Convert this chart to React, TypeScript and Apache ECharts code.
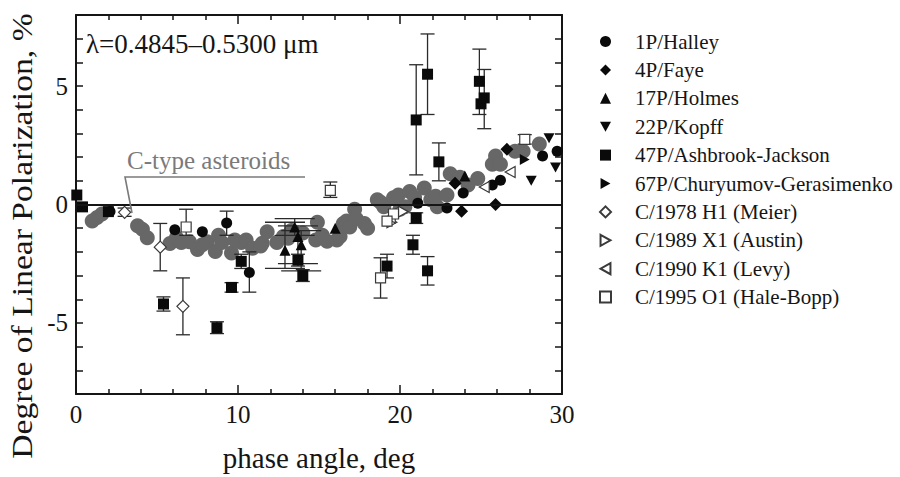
import React, { useEffect, useRef } from "react";
import * as echarts from "echarts";

// ---- Data (phase angle deg, polarization %, [lower, upper] error) ----
const cTypeAsteroids: number[][] = [
  [1.0, -0.7], [1.3, -0.55], [1.6, -0.4], [3.8, -0.9], [4.1, -1.05], [4.4, -1.4],
  [5.8, -1.65], [6.2, -1.4], [6.5, -1.6], [7.0, -1.57], [7.5, -1.9], [7.8, -1.7],
  [8.1, -1.57], [8.6, -1.98], [8.8, -1.3], [9.0, -1.6], [9.6, -2.05], [9.8, -1.5],
  [10.2, -1.6], [10.5, -1.5], [10.9, -1.85], [11.4, -1.75], [11.5, -1.64], [11.8, -1.15],
  [12.4, -1.6], [12.8, -1.35], [13.1, -1.43], [13.3, -1.1], [14.0, -1.2], [14.8, -1.5],
  [14.9, -0.75], [15.2, -1.3], [15.5, -1.55], [16.1, -1.5], [16.3, -1.35], [16.5, -0.8],
  [16.7, -0.7], [16.9, -0.95], [17.2, -0.2], [17.3, -0.6], [17.8, -0.8], [18.0, -1.0],
  [18.6, 0.2], [18.8, 0.1], [19.0, -0.1], [19.6, 0.28], [19.9, 0.4], [20.0, -0.2],
  [20.3, -0.1], [20.6, 0.55], [20.9, 0.3], [21.5, 0.7], [21.9, 0.2], [22.2, 0.35],
  [22.3, -0.1], [22.9, 0.4], [23.1, 1.3], [23.7, 1.15], [24.2, 0.82], [24.8, 1.1],
  [25.7, 1.7], [25.9, 2.05], [26.2, 1.7], [27.1, 2.25], [27.6, 2.25], [28.6, 2.55],
];

const halley: number[][] = [
  [2.1, -0.3], [6.1, -1.07], [7.8, -1.15], [9.3, -0.78, -1.3, -0.28], [10.7, -2.87, -3.7, -2.0],
  [21.1, 0.05], [22.9, -0.15], [23.9, 0.49], [25.7, 0.82], [26.2, 1.02], [28.8, 2.05], [29.7, 2.25],
];
const faye: number[][] = [[23.4, 0.9], [23.8, -0.28], [25.9, 0.0], [26.6, 2.33]];
const holmes: number[][] = [
  [12.9, -1.93, -2.7, -0.75], [13.5, -0.95, -1.3, -0.6], [13.7, -1.35, -2.5, -0.9],
  [13.9, -1.7, -2.8, -1.1], [16.0, -1.0], [24.0, 1.2],
];
const kopff: number[][] = [[28.1, 1.0], [29.2, 2.8], [29.6, 1.56]];
const ashbrookJackson: number[][] = [
  [0.05, 0.4], [0.4, -0.1], [2.0, -0.3],
  [5.4, -4.2, -4.5, -3.9], [8.7, -5.2, -5.45, -4.95], [9.6, -3.5, -3.7, -3.3], [10.2, -2.4, -2.7, -2.1],
  [13.7, -2.35, -2.6, -2.1], [14.0, -3.0, -3.25, -2.75], [19.2, -2.6, -3.1, -2.1],
  [20.8, -1.7, -2.1, -1.3], [21.0, -0.57, -0.8, -0.35], [21.7, -2.8, -3.4, -2.2],
  [21.0, 3.57, 1.25, 5.9], [21.7, 5.5, 3.8, 7.2], [22.4, 1.8, 1.0, 2.6],
  [24.9, 5.2, 3.8, 6.56], [25.0, 4.25], [25.2, 4.5, 3.2, 5.7],
];
const churyumov: number[][] = [[27.7, 1.9]];
const meier: number[][] = [[3.0, -0.33, -0.5, -0.15], [5.2, -1.8, -2.8, -0.8], [6.6, -4.3, -5.5, -3.1]];
const austin: number[][] = [[19.5, -0.75], [20.2, -0.3]];
const levy: number[][] = [[19.4, -0.55], [19.6, -0.35], [25.2, 0.74], [26.8, 1.37]];
const haleBopp: number[][] = [
  [6.8, -0.95, -1.3, -0.2], [15.7, 0.6, 0.3, 0.95], [18.8, -3.1, -3.95, -2.25],
  [19.6, -0.4], [19.2, -0.7], [27.7, 2.75, 2.55, 2.95],
];

const xRange = [0, 30];
const yRange = [-8, 8];
const yTickLabels = [-5, 0, 5];

const FONT = "Liberation Serif";
const INK = "#151515";

const TRI_DOWN = "path://M0,0 L10,0 L5,9 Z";
const TRI_RIGHT = "path://M0,0 L9,5 L0,10 Z";
const TRI_LEFT = "path://M9,0 L0,5 L9,10 Z";

type SeriesDef = { name: string; data: number[][]; symbol: string; size: number; open: boolean; wideCap?: boolean };

const comets: SeriesDef[] = [
  { name: "1P/Halley", data: halley, symbol: "circle", size: 11, open: false },
  { name: "4P/Faye", data: faye, symbol: "diamond", size: 13, open: false },
  { name: "17P/Holmes", data: holmes, symbol: "triangle", size: 11, open: false, wideCap: true },
  { name: "22P/Kopff", data: kopff, symbol: TRI_DOWN, size: 11, open: false },
  { name: "47P/Ashbrook-Jackson", data: ashbrookJackson, symbol: "rect", size: 11, open: false },
  { name: "67P/Churyumov-Gerasimenko", data: churyumov, symbol: TRI_RIGHT, size: 11, open: false },
  { name: "C/1978 H1 (Meier)", data: meier, symbol: "diamond", size: 12, open: true },
  { name: "C/1989 X1 (Austin)", data: austin, symbol: TRI_RIGHT, size: 11, open: true },
  { name: "C/1990 K1 (Levy)", data: levy, symbol: TRI_LEFT, size: 11, open: true },
  { name: "C/1995 O1 (Hale-Bopp)", data: haleBopp, symbol: "rect", size: 10, open: true },
];

export default function App() {
  const ref = useRef<HTMLDivElement>(null);
  useEffect(() => {
    if (!ref.current) return;
    const chart = echarts.init(ref.current, undefined, { renderer: "svg" });

    const errData: number[][] = [];
    comets.forEach((s) => {
      s.data.forEach((d) => {
        if (d.length >= 4) errData.push([d[0], d[2], d[3], s.wideCap ? 1 : 0]);
      });
    });

    const axisCommon = {
      type: "value" as const,
      axisLine: { show: true, onZero: false, lineStyle: { color: INK, width: 2 } },
      splitLine: { show: false },
      minorSplitLine: { show: false },
    };
    const xTick = {
      axisTick: { show: true, inside: true, length: 9, lineStyle: { color: INK, width: 1.5 } },
      minorTick: { show: true, splitNumber: 5, length: 5, lineStyle: { color: INK, width: 1.5 } },
    };
    const yTick = {
      axisTick: { show: true, inside: true, length: 7, lineStyle: { color: INK, width: 1.5 } },
      minorTick: { show: false },
    };

    const option: any = {
      animation: false,
      backgroundColor: "#fff",
      grid: { left: 76, right: 338, top: 15, bottom: 72 },
      xAxis: [
        {
          ...axisCommon, ...xTick, position: "bottom", min: xRange[0], max: xRange[1], interval: 10,
          axisLabel: { fontFamily: FONT, fontSize: 25, color: INK, margin: 8 },
          name: "phase angle, deg", nameLocation: "middle", nameGap: 49,
          nameTextStyle: { fontFamily: FONT, fontSize: 29, color: INK },
        },
        { ...axisCommon, ...xTick, position: "top", min: xRange[0], max: xRange[1], interval: 10, axisLabel: { show: false } },
      ],
      yAxis: [
        {
          ...axisCommon, ...yTick, position: "left", min: yRange[0], max: yRange[1], interval: 1,
          axisLabel: {
            fontFamily: FONT, fontSize: 25, color: INK, margin: 8, showMinLabel: true, showMaxLabel: true,
            formatter: (v: number) => (yTickLabels.includes(v) ? (v < 0 ? "-" + -v : String(v)) : ""),
          },
        },
        { ...axisCommon, ...yTick, position: "right", min: yRange[0], max: yRange[1], interval: 1, axisLabel: { show: false } },
      ],
      legend: {
        data: comets.map((c) => c.name),
        orient: "vertical",
        left: 599,
        top: 31,
        itemWidth: 11,
        itemHeight: 11,
        itemGap: 7.4,
        padding: 0,
        textStyle: { fontFamily: FONT, fontSize: 21, color: INK, padding: [0, 0, 0, 19] },
        selectedMode: false,
      },
      graphic: [
        {
          type: "text", left: 86, top: 30,
          style: { text: "λ=0.4845–0.5300 μm", fontFamily: FONT, fontSize: 27, fill: INK },
        },
        {
          type: "text", x: 127, y: 160,
          style: { text: "C-type asteroids", fontFamily: FONT, fontSize: 25, fill: "#7a7a7a", verticalAlign: "middle" },
        },
        {
          type: "polyline", z: 10,
          shape: { points: [[305, 177], [125, 177], [132, 213]] },
          style: { stroke: "#7a7a7a", lineWidth: 1.6, fill: "none" },
        },
        {
          type: "text", x: 22, y: 236, rotation: Math.PI / 2, scaleX: 1.16,
          style: {
            text: "Degree of Linear Polarization, %", fontFamily: FONT, fontSize: 29, fill: INK,
            align: "center", verticalAlign: "middle",
          },
        },
      ],
      series: [
        {
          name: "C-type asteroids", type: "scatter", data: cTypeAsteroids, symbol: "circle", symbolSize: 15,
          itemStyle: { color: "#676767", opacity: 1 }, z: 1,
          markLine: {
            silent: true, symbol: "none", label: { show: false },
            lineStyle: { color: INK, width: 1.8, type: "solid" },
            data: [{ yAxis: 0 }],
          },
        },
        {
          name: "errors", type: "custom", data: errData, z: 2,
          encode: { x: 0, y: [1, 2] },
          renderItem: (params: any, api: any) => {
            const x = api.value(0), lo = api.value(1), hi = api.value(2), wide = api.value(3);
            const top = api.coord([x, hi]);
            const bot = api.coord([x, lo]);
            const c = wide ? 20 : 7;
            const st = { stroke: "#2a2a2a", lineWidth: 1.3 };
            return {
              type: "group",
              children: [
                { type: "line", shape: { x1: top[0], y1: top[1], x2: bot[0], y2: bot[1] }, style: st },
                { type: "line", shape: { x1: top[0] - c, y1: top[1], x2: top[0] + c, y2: top[1] }, style: st },
                { type: "line", shape: { x1: bot[0] - c, y1: bot[1], x2: bot[0] + c, y2: bot[1] }, style: st },
              ],
            };
          },
        },
        ...comets.map((c) => ({
          name: c.name, type: "scatter", z: 3,
          data: c.data.map((d) => [d[0], d[1]]),
          symbol: c.symbol, symbolSize: c.size, symbolKeepAspect: true,
          itemStyle: c.open
            ? { color: "#ffffff", borderColor: "#3a3a3a", borderWidth: 1.2, opacity: 1 }
            : { color: "#0a0a0a", opacity: 1 },
        })),
      ],
    };
    chart.setOption(option);
    return () => chart.dispose();
  }, []);
  return <div ref={ref} style={{ width: 900, height: 477, position: "absolute", left: 0, top: 0 }} />;
}
